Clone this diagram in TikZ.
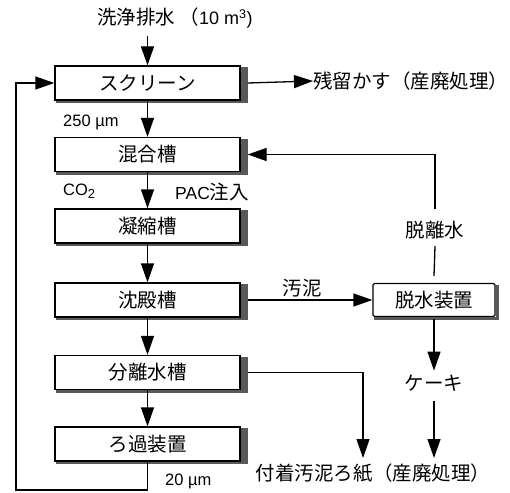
\documentclass[tikz,border=0pt]{standalone}
\usepackage{fontspec}
\setmainfont{Liberation Sans}
\newfontfamily\jp{Noto Sans CJK JP}
\usetikzlibrary{arrows.meta,calc}
\newcommand{\jpsize}{\fontsize{19.5}{21}\selectfont}
\tikzset{
  box/.style={draw, line width=1.3pt, fill=white, minimum width=185pt, minimum height=34pt, inner sep=0pt, font=\jp\jpsize},
  dbox/.style={box, minimum width=122pt, minimum height=33pt, rounded corners=1.5pt},
  jtxt/.style={inner sep=0pt, font=\jp\jpsize},
  ltxt/.style={inner sep=0pt, font=\fontsize{16.5}{18}\selectfont},
  flow/.style={line width=1.3pt, -{Triangle[length=19pt,width=13pt]}},
  line/.style={line width=1.3pt},
  shade/.style={fill=black!65},
}
\newcommand{\shadowof}[2]{%
  \fill[shade] ($(#1.north east)+(0,2)$) rectangle ($(#1.south east)+(#2,2.5)$);
  \fill[shade] ($(#1.south west)+(2,0)$) rectangle ($(#1.south east)+(#2,2.5)$);
}
\begin{document}
\begin{tikzpicture}[x=1pt,y=-1pt]
\useasboundingbox (0,0) rectangle (510,492);
% main column
\node[box] (scr) at (147.5,83) {スクリーン};
\node[box] (mix) at (147.5,154.5) {混合槽};
\node[box] (con) at (147.5,226) {凝縮槽};
\node[box] (sed) at (147.5,300) {沈殿槽};
\node[box] (sep) at (147.5,372.5) {分離水槽};
\node[box] (fil) at (147.5,444) {ろ過装置};
\node[dbox] (dw) at (434,300) {脱水装置};
\shadowof{scr}{7}
\shadowof{mix}{7}
\shadowof{con}{7}
\shadowof{sed}{7}
\shadowof{sep}{7}
\shadowof{fil}{7}
\shadowof{dw}{3}
% texts
\node[anchor=west, inner sep=0pt, font=\fontsize{18}{20}\selectfont] (src) at (97,18) {{\jp\jpsize 洗浄排水 （}10 m\textsuperscript{3})};
\node[jtxt, anchor=west] (res) at (313,81) {残留かす（産廃処理）};
\node[ltxt, anchor=west] (l250) at (63,122) {250 µm};
\node[ltxt, anchor=west] (lco) at (63,191) {CO\raisebox{-3.5pt}{\fontsize{13}{13}\selectfont 2}};
\node[anchor=west, inner sep=0pt, font=\fontsize{17.5}{19}\selectfont] (lpac) at (175,192) {PAC{\jp\jpsize 注入}};
\node[ltxt, anchor=west] (l20) at (165,481) {20 µm};
\node[jtxt] (sludge) at (302,288) {汚泥};
\node[jtxt] (dwl) at (435,230) {脱離水};
\node[jtxt] (cake) at (434,383) {ケーキ};
\node[jtxt, anchor=east] (paper) at (373,473) {付着汚泥ろ紙};
\node[jtxt, anchor=west] (disp) at (373,473) {（産廃処理）};
\coordinate (p1) at (363,458);
\coordinate (loopb) at (16,490);
\coordinate (dwtop) at ($(dwl.north)+(0,-12)$);
\coordinate (dwcorner) at (dwtop |- mix.east);
\coordinate (srcend) at ($(src.south -| scr.north)+(0,8)$);
% connectors
\draw[flow] (srcend) -- (scr.north);
\draw[flow] ($(scr.east)+(7,0)$) -- (res.west);
\draw[flow] (scr.south) -- (mix.north);
\draw[flow] (mix.south) -- (con.north);
\draw[flow] (con.south) -- (sed.north);
\draw[flow] (sed.south) -- (sep.north);
\draw[flow] (sep.south) -- (fil.north);
\draw[flow] (fil.south) -- (fil.south |- loopb) -- (loopb) -- (loopb |- scr.west) -- (scr.west);
\draw[flow] ($(sed.east)+(7,0)$) -- (dw.west);
\draw[line] ($(dw.north)+(0,-7)$) -- ($(dwl.south)+(0,7)$);
\draw[flow] (dwtop) -- (dwcorner) -- ($(mix.east)+(7,0)$);
\draw[flow] ($(dw.south)+(0,2)$) -- ($(cake.north)+(0,-4)$);
\draw[flow] ($(cake.south)+(0,10)$) -- (cake.south |- p1);
\draw[flow] ($(sep.east)+(7,0)$) -- (sep.east -| p1) -- (p1);
\end{tikzpicture}
\end{document}
